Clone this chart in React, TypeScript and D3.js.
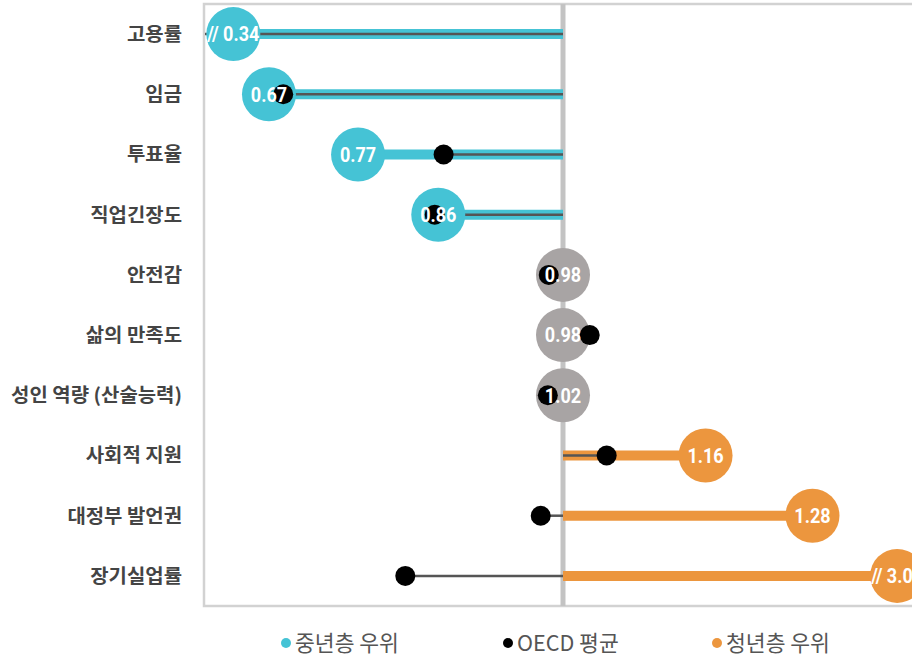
import React from "react";
import * as d3 from "d3";

const categories = [
  "고용률",
  "임금",
  "투표율",
  "직업긴장도",
  "안전감",
  "삶의 만족도",
  "성인 역량 (산술능력)",
  "사회적 지원",
  "대정부 발언권",
  "장기실업률",
];
const ratios = [0.34, 0.67, 0.77, 0.86, 0.98, 0.98, 1.02, 1.16, 1.28, 3.09];
const oecdAvg = [0.55, 0.686, 0.866, 0.856, 0.984, 1.03, 0.983, 1.049, 0.975, 0.823];
const groups = ["mid", "mid", "mid", "mid", "neutral", "neutral", "neutral", "youth", "youth", "youth"];
const legendLabels = ["중년층 우위", "OECD 평균", "청년층 우위"];
const legendKeys = ["mid", "oecd", "youth"];

const breakLow = 0.63;
const breakHigh = 1.375;

const COLORS: Record<string, string> = {
  mid: "#45C3D5",
  neutral: "#A8A4A4",
  youth: "#EC963E",
  oecd: "#000000",
};

const W = 912;
const H = 660;
const plotLeft = 205;
const plotTop = 4;
const plotBottom = 606;

export default function App() {
  const x = d3.scaleLinear().domain([0.6, 1.4]).range([206.6, 919.4]);
  const y = d3
    .scaleBand<string>()
    .domain(categories)
    .range([plotTop, plotBottom])
    .padding(0);
  const fmt = d3.format(".2f");
  const cy = (c: string) => (y(c) as number) + y.bandwidth() / 2;

  const pos = (v: number, g: string) => {
    if (g === "neutral") return x(1);
    if (v < breakLow) return x(breakLow);
    if (v > breakHigh) return x(breakHigh);
    return x(v);
  };
  const isBroken = (v: number) => v < breakLow || v > breakHigh;

  const numFont = "'Liberation Sans Narrow', 'Arial Narrow', Roboto, sans-serif";
  const korFont = "'Noto Sans CJK KR', 'Noto Sans', sans-serif";

  const legendX = [286, 508, 717];

  return (
    <svg
      width={W}
      height={H}
      style={{ position: "absolute", left: 0, top: 0, display: "block", background: "#fff" }}
    >
      <defs>
        <clipPath id="plotClip">
          <rect x={plotLeft} y={plotTop} width={W} height={plotBottom - plotTop} />
        </clipPath>
      </defs>

      {/* frame */}
      <rect
        x={plotLeft - 1}
        y={plotTop}
        width={W}
        height={plotBottom - plotTop}
        fill="none"
        stroke="#D2D2D2"
        strokeWidth={2.5}
      />

      {/* center reference line */}
      <line x1={x(1)} x2={x(1)} y1={plotTop} y2={plotBottom} stroke="#C3C3C3" strokeWidth={5} />

      <g clipPath="url(#plotClip)">
        {/* ratio bars */}
        {categories.map((c, i) =>
          groups[i] === "neutral" ? null : (
            <line
              key={"bar" + c}
              x1={x(1)}
              x2={pos(ratios[i], groups[i])}
              y1={cy(c)}
              y2={cy(c)}
              stroke={COLORS[groups[i]]}
              strokeWidth={10}
            />
          )
        )}
        {/* OECD lines */}
        {categories.map((c, i) => (
          <line
            key={"ol" + c}
            x1={x(1)}
            x2={x(oecdAvg[i])}
            y1={cy(c)}
            y2={cy(c)}
            stroke="#555555"
            strokeWidth={2.5}
          />
        ))}
        {/* ratio circles */}
        {categories.map((c, i) => (
          <circle
            key={"rc" + c}
            cx={pos(ratios[i], groups[i])}
            cy={cy(c)}
            r={27}
            fill={COLORS[groups[i]]}
          />
        ))}
        {/* OECD dots */}
        {categories.map((c, i) => (
          <circle key={"od" + c} cx={x(oecdAvg[i])} cy={cy(c)} r={10} fill="#000" />
        ))}
      </g>

      {/* ratio labels */}
      {categories.map((c, i) => (
        <text
          key={"rt" + c}
          transform={`translate(${pos(ratios[i], groups[i])},${cy(c)}) scale(0.88,1)`}
          dy="0.36em"
          textAnchor="middle"
          fill="#fff"
          fontFamily={numFont}
          fontWeight="bold"
          fontSize={20.5}
        >
          {(isBroken(ratios[i]) ? "// " : "") + fmt(ratios[i])}
        </text>
      ))}

      {/* category labels */}
      {categories.map((c) => (
        <text
          key={"cl" + c}
          transform={`translate(182,${cy(c)}) scale(1.05,1)`}
          dy="0.36em"
          textAnchor="end"
          fill="#444"
          fontFamily={korFont}
          fontWeight="bold"
          fontSize={19}
        >
          {c}
        </text>
      ))}

      {/* legend */}
      {legendKeys.map((k, i) => (
        <g key={"lg" + k}>
          <circle cx={legendX[i]} cy={643} r={5} fill={COLORS[k]} />
          <text
            transform={`translate(${legendX[i] + 9},643) scale(0.98,1)`}
            dy="0.36em"
            fill="#555"
            fontFamily={korFont}
            fontSize={22}
          >
            {legendLabels[i]}
          </text>
        </g>
      ))}
    </svg>
  );
}
